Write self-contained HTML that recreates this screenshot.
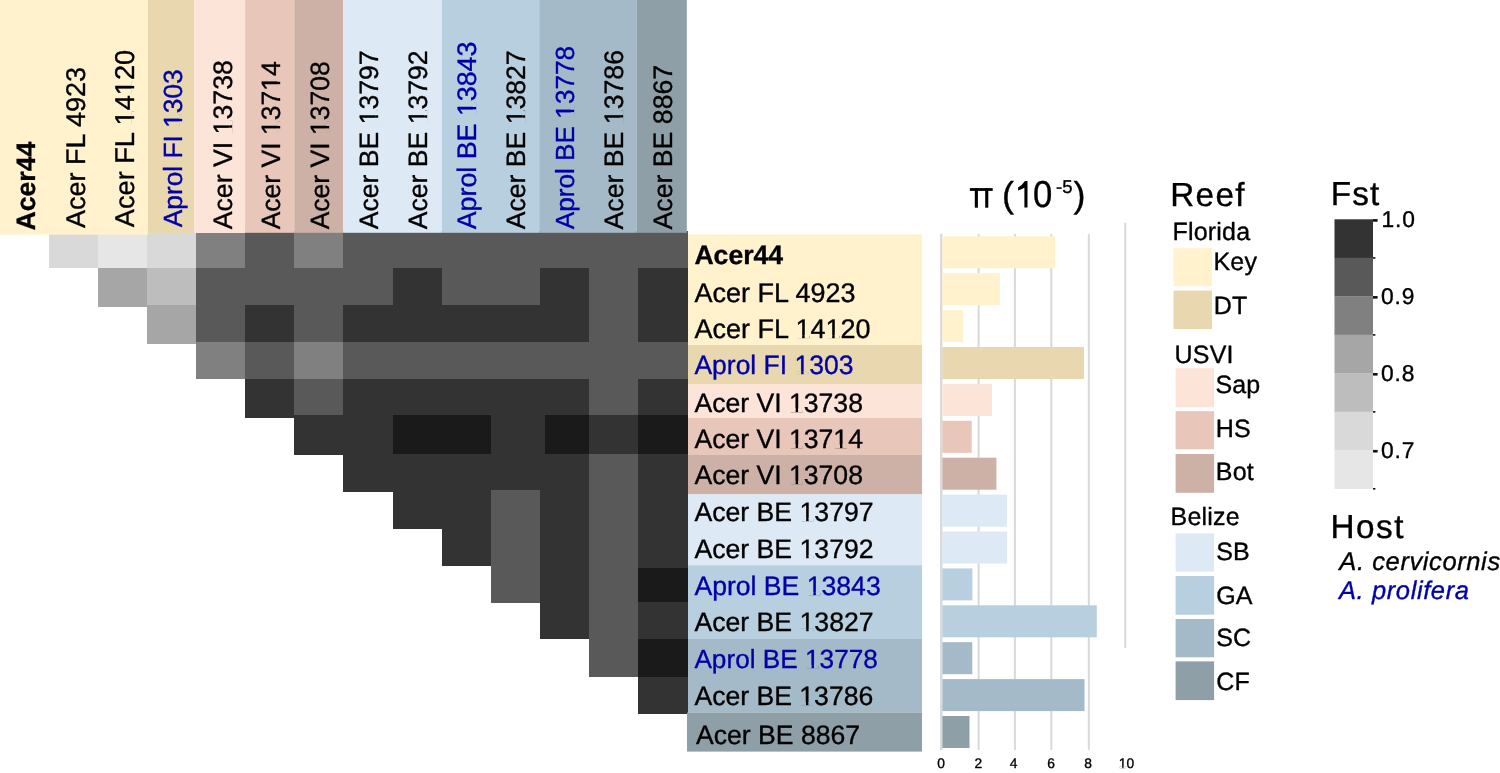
<!DOCTYPE html>
<html><head><meta charset="utf-8"><title>Fst heatmap</title>
<style>
html,body{margin:0;padding:0;background:#fff;}
body{width:1500px;height:773px;overflow:hidden;}
svg{display:block;will-change:transform;}
text{font-family:"Liberation Sans", sans-serif;text-rendering:geometricPrecision;stroke-width:0.35px;stroke-linejoin:round;}
text[fill="#000"]{stroke:#000;}
text[fill="#0000AA"]{stroke:#0000AA;}
</style></head><body>
<svg width="1500" height="773" viewBox="0 0 1500 773">
<rect x="0" y="0" width="1500" height="773" fill="#fff"/>
<g shape-rendering="crispEdges">
<rect x="49.07" y="230.60" width="49.47" height="37.40" fill="#D9D9D9"/>
<rect x="98.14" y="230.60" width="49.47" height="37.60" fill="#E6E6E6"/>
<rect x="147.21" y="230.60" width="49.47" height="37.60" fill="#D9D9D9"/>
<rect x="196.28" y="230.60" width="49.47" height="37.60" fill="#808080"/>
<rect x="245.35" y="230.60" width="49.47" height="37.60" fill="#595959"/>
<rect x="294.42" y="230.60" width="49.47" height="37.60" fill="#808080"/>
<rect x="343.49" y="230.60" width="49.47" height="37.60" fill="#595959"/>
<rect x="392.56" y="230.60" width="49.47" height="37.60" fill="#595959"/>
<rect x="441.63" y="230.60" width="49.47" height="37.60" fill="#595959"/>
<rect x="490.70" y="230.60" width="49.47" height="37.60" fill="#595959"/>
<rect x="539.77" y="230.60" width="49.47" height="37.60" fill="#595959"/>
<rect x="588.84" y="230.60" width="49.47" height="37.60" fill="#595959"/>
<rect x="637.91" y="230.60" width="49.79" height="37.60" fill="#595959"/>
<rect x="98.14" y="267.80" width="49.47" height="39.40" fill="#A6A6A6"/>
<rect x="147.21" y="267.80" width="49.47" height="37.20" fill="#BDBDBD"/>
<rect x="196.28" y="267.80" width="49.47" height="37.20" fill="#595959"/>
<rect x="245.35" y="267.80" width="49.47" height="37.20" fill="#595959"/>
<rect x="294.42" y="267.80" width="49.47" height="37.20" fill="#595959"/>
<rect x="343.49" y="267.80" width="49.47" height="37.20" fill="#595959"/>
<rect x="392.56" y="267.80" width="49.47" height="37.20" fill="#333333"/>
<rect x="441.63" y="267.80" width="49.47" height="37.20" fill="#595959"/>
<rect x="490.70" y="267.80" width="49.47" height="37.20" fill="#595959"/>
<rect x="539.77" y="267.80" width="49.47" height="37.20" fill="#333333"/>
<rect x="588.84" y="267.80" width="49.47" height="37.20" fill="#595959"/>
<rect x="637.91" y="267.80" width="49.79" height="37.20" fill="#333333"/>
<rect x="147.21" y="304.60" width="49.47" height="39.50" fill="#A6A6A6"/>
<rect x="196.28" y="304.60" width="49.47" height="37.30" fill="#595959"/>
<rect x="245.35" y="304.60" width="49.47" height="37.30" fill="#333333"/>
<rect x="294.42" y="304.60" width="49.47" height="37.30" fill="#595959"/>
<rect x="343.49" y="304.60" width="49.47" height="37.30" fill="#333333"/>
<rect x="392.56" y="304.60" width="49.47" height="37.30" fill="#333333"/>
<rect x="441.63" y="304.60" width="49.47" height="37.30" fill="#333333"/>
<rect x="490.70" y="304.60" width="49.47" height="37.30" fill="#333333"/>
<rect x="539.77" y="304.60" width="49.47" height="37.30" fill="#333333"/>
<rect x="588.84" y="304.60" width="49.47" height="37.30" fill="#595959"/>
<rect x="637.91" y="304.60" width="49.79" height="37.30" fill="#333333"/>
<rect x="196.28" y="341.50" width="49.47" height="37.00" fill="#808080"/>
<rect x="245.35" y="341.50" width="49.47" height="37.70" fill="#595959"/>
<rect x="294.42" y="341.50" width="49.47" height="37.70" fill="#808080"/>
<rect x="343.49" y="341.50" width="49.47" height="37.70" fill="#595959"/>
<rect x="392.56" y="341.50" width="49.47" height="37.70" fill="#595959"/>
<rect x="441.63" y="341.50" width="49.47" height="37.70" fill="#595959"/>
<rect x="490.70" y="341.50" width="49.47" height="37.70" fill="#595959"/>
<rect x="539.77" y="341.50" width="49.47" height="37.70" fill="#595959"/>
<rect x="588.84" y="341.50" width="49.47" height="37.70" fill="#595959"/>
<rect x="637.91" y="341.50" width="49.79" height="37.70" fill="#595959"/>
<rect x="245.35" y="378.80" width="49.47" height="39.00" fill="#333333"/>
<rect x="294.42" y="378.80" width="49.47" height="36.50" fill="#595959"/>
<rect x="343.49" y="378.80" width="49.47" height="36.50" fill="#333333"/>
<rect x="392.56" y="378.80" width="49.47" height="36.50" fill="#333333"/>
<rect x="441.63" y="378.80" width="49.47" height="36.50" fill="#333333"/>
<rect x="490.70" y="378.80" width="49.47" height="36.50" fill="#333333"/>
<rect x="539.77" y="378.80" width="49.47" height="36.50" fill="#333333"/>
<rect x="588.84" y="378.80" width="49.47" height="36.50" fill="#595959"/>
<rect x="637.91" y="378.80" width="49.79" height="36.50" fill="#333333"/>
<rect x="294.42" y="414.90" width="49.47" height="40.10" fill="#333333"/>
<rect x="343.49" y="414.90" width="49.47" height="39.80" fill="#333333"/>
<rect x="392.56" y="414.90" width="49.47" height="39.80" fill="#1A1A1A"/>
<rect x="441.63" y="414.90" width="49.47" height="39.80" fill="#1A1A1A"/>
<rect x="490.70" y="414.90" width="49.47" height="39.80" fill="#333333"/>
<rect x="544.80" y="414.90" width="49.47" height="39.80" fill="#1A1A1A"/>
<rect x="588.84" y="414.90" width="49.47" height="39.80" fill="#333333"/>
<rect x="637.91" y="414.90" width="49.79" height="39.80" fill="#1A1A1A"/>
<rect x="343.49" y="454.30" width="49.47" height="38.10" fill="#333333"/>
<rect x="392.56" y="454.30" width="49.47" height="35.70" fill="#333333"/>
<rect x="441.63" y="454.30" width="49.47" height="35.70" fill="#333333"/>
<rect x="490.70" y="454.30" width="49.47" height="35.70" fill="#333333"/>
<rect x="539.77" y="454.30" width="49.47" height="35.70" fill="#333333"/>
<rect x="588.84" y="454.30" width="49.47" height="35.70" fill="#595959"/>
<rect x="637.91" y="454.30" width="49.79" height="35.70" fill="#333333"/>
<rect x="392.56" y="489.60" width="49.47" height="39.40" fill="#333333"/>
<rect x="441.63" y="489.60" width="49.47" height="37.80" fill="#333333"/>
<rect x="490.70" y="489.60" width="49.47" height="37.80" fill="#595959"/>
<rect x="539.77" y="489.60" width="49.47" height="37.80" fill="#333333"/>
<rect x="588.84" y="489.60" width="49.47" height="37.80" fill="#595959"/>
<rect x="637.91" y="489.60" width="49.79" height="37.80" fill="#333333"/>
<rect x="441.63" y="527.00" width="49.47" height="39.20" fill="#333333"/>
<rect x="490.70" y="527.00" width="49.47" height="41.40" fill="#595959"/>
<rect x="539.77" y="527.00" width="49.47" height="41.40" fill="#333333"/>
<rect x="588.84" y="527.00" width="49.47" height="41.40" fill="#595959"/>
<rect x="637.91" y="527.00" width="49.79" height="41.40" fill="#333333"/>
<rect x="490.70" y="568.00" width="49.47" height="35.00" fill="#595959"/>
<rect x="539.77" y="568.00" width="49.47" height="34.00" fill="#333333"/>
<rect x="588.84" y="568.00" width="49.47" height="34.00" fill="#595959"/>
<rect x="637.91" y="568.00" width="49.79" height="34.00" fill="#1A1A1A"/>
<rect x="539.77" y="601.60" width="49.47" height="37.40" fill="#333333"/>
<rect x="588.84" y="601.60" width="49.47" height="37.80" fill="#595959"/>
<rect x="637.91" y="601.60" width="49.79" height="37.80" fill="#333333"/>
<rect x="588.84" y="639.00" width="49.47" height="38.00" fill="#595959"/>
<rect x="637.91" y="639.00" width="49.79" height="38.70" fill="#1A1A1A"/>
<rect x="637.91" y="677.30" width="49.79" height="36.40" fill="#333333"/>
<rect x="540.0" y="414.90" width="5.0" height="39.40" fill="#333333"/>
</g>
<g>
<rect x="0" y="0" width="147.90" height="234.7" fill="#FFF2CC"/>
<rect x="147.9" y="0" width="46.20" height="233.0" fill="#E8D7AF"/>
<rect x="194.1" y="0" width="51.00" height="233.0" fill="#FCE4D8"/>
<rect x="245.1" y="0" width="49.20" height="232.8" fill="#E9C6BA"/>
<rect x="294.3" y="0" width="48.80" height="232.8" fill="#CDB1A6"/>
<rect x="343.1" y="0" width="98.70" height="232.8" fill="#DDEAF6"/>
<rect x="441.8" y="0" width="97.40" height="232.8" fill="#B8CFE0"/>
<rect x="539.2" y="0" width="97.60" height="232.8" fill="#A5BAC8"/>
<rect x="636.8" y="0" width="50.00" height="232.8" fill="#8E9FA8"/>
</g>
<text id="h0" x="35.4" y="230.5" transform="rotate(-90 35.4 230.5)" font-size="26.6" fill="#000" font-weight="bold">Acer44</text>
<text id="h1" x="85.3" y="228.0" transform="rotate(-90 85.3 228.0)" font-size="27.0" fill="#000">Acer FL 4923</text>
<text id="h2" x="134.5" y="227.2" transform="rotate(-90 134.5 227.2)" font-size="27.2" fill="#000">Acer FL 14120</text>
<text id="h3" x="182.4" y="227.2" transform="rotate(-90 182.4 227.2)" font-size="26.3" fill="#0000AA">Aprol FI 1303</text>
<text id="h4" x="231.8" y="229.3" transform="rotate(-90 231.8 229.3)" font-size="26.7" fill="#000">Acer VI 13738</text>
<text id="h5" x="280.3" y="229.3" transform="rotate(-90 280.3 229.3)" font-size="26.5" fill="#000">Acer VI 13714</text>
<text id="h6" x="329.2" y="229.3" transform="rotate(-90 329.2 229.3)" font-size="26.5" fill="#000">Acer VI 13708</text>
<text id="h7" x="378.2" y="229.3" transform="rotate(-90 378.2 229.3)" font-size="26.6" fill="#000">Acer BE 13797</text>
<text id="h8" x="427.0" y="229.3" transform="rotate(-90 427.0 229.3)" font-size="26.6" fill="#000">Acer BE 13792</text>
<text id="h9" x="476.0" y="229.3" transform="rotate(-90 476.0 229.3)" font-size="26.8" fill="#0000AA">Aprol BE 13843</text>
<text id="h10" x="525.0" y="229.3" transform="rotate(-90 525.0 229.3)" font-size="26.6" fill="#000">Acer BE 13827</text>
<text id="h11" x="574.0" y="229.3" transform="rotate(-90 574.0 229.3)" font-size="26.2" fill="#0000AA">Aprol BE 13778</text>
<text id="h12" x="623.0" y="229.5" transform="rotate(-90 623.0 229.5)" font-size="26.7" fill="#000">Acer BE 13786</text>
<text id="h13" x="672.0" y="229.5" transform="rotate(-90 672.0 229.5)" font-size="26.7" fill="#000">Acer BE 8867</text>
<rect x="688" y="234.3" width="234" height="110.70" fill="#FFF2CC"/>
<rect x="688" y="345.0" width="234" height="39.00" fill="#E8D7AF"/>
<rect x="688" y="384.0" width="234" height="34.00" fill="#FCE4D8"/>
<rect x="688" y="418.0" width="234" height="37.00" fill="#E9C6BA"/>
<rect x="688" y="455.0" width="234" height="39.40" fill="#CDB1A6"/>
<rect x="688" y="494.4" width="234" height="70.80" fill="#DDEAF6"/>
<rect x="688" y="565.2" width="234" height="73.80" fill="#B8CFE0"/>
<rect x="688" y="639.0" width="234" height="73.50" fill="#A5BAC8"/>
<rect x="687" y="712.5" width="235" height="39.10" fill="#8E9FA8"/>
<text id="r0" x="694.4" y="263.8" font-size="26.6" fill="#000" font-weight="bold">Acer44</text>
<text id="r1" x="694.4" y="301.8" font-size="27.0" fill="#000">Acer FL 4923</text>
<text id="r2" x="694.4" y="338.0" font-size="27.0" fill="#000">Acer FL 14120</text>
<text id="r3" x="694.4" y="374.2" font-size="26.5" fill="#0000AA">Aprol FI 1303</text>
<text id="r4" x="694.4" y="411.5" font-size="26.6" fill="#000">Acer VI 13738</text>
<text id="r5" x="694.4" y="447.6" font-size="26.6" fill="#000">Acer VI 13714</text>
<text id="r6" x="694.4" y="483.9" font-size="26.6" fill="#000">Acer VI 13708</text>
<text id="r7" x="694.4" y="520.8" font-size="26.65" fill="#000">Acer BE 13797</text>
<text id="r8" x="694.4" y="558.2" font-size="26.65" fill="#000">Acer BE 13792</text>
<text id="r9" x="694.4" y="594.8" font-size="26.6" fill="#0000AA">Aprol BE 13843</text>
<text id="r10" x="694.4" y="631.4" font-size="26.65" fill="#000">Acer BE 13827</text>
<text id="r11" x="694.4" y="667.9" font-size="26.2" fill="#0000AA">Aprol BE 13778</text>
<text id="r12" x="694.4" y="705.0" font-size="26.6" fill="#000">Acer BE 13786</text>
<text id="r13" x="696.0" y="743.7" font-size="26.6" fill="#000">Acer BE 8867</text>
<rect x="977.60" y="234" width="2" height="516" fill="#D9D9D9"/>
<rect x="1013.90" y="234" width="2" height="516" fill="#D9D9D9"/>
<rect x="1050.30" y="234" width="2" height="516" fill="#D9D9D9"/>
<rect x="1087.80" y="234" width="2" height="516" fill="#D9D9D9"/>
<rect x="1124.30" y="222.8" width="2" height="425.2" fill="#D9D9D9"/>
<rect x="940.1" y="233.9" width="2.4" height="516.1" fill="#D9D9D9"/>
<rect x="942.4" y="236.30" width="112.60" height="32" fill="#FFF2CC"/>
<rect x="942.4" y="273.20" width="57.60" height="32" fill="#FFF2CC"/>
<rect x="942.4" y="310.10" width="20.60" height="32" fill="#FFF2CC"/>
<rect x="942.4" y="347.00" width="141.60" height="32" fill="#E8D7AF"/>
<rect x="942.4" y="383.90" width="49.60" height="32" fill="#FCE4D8"/>
<rect x="942.4" y="420.80" width="29.30" height="32" fill="#E9C6BA"/>
<rect x="942.4" y="457.70" width="54.00" height="32" fill="#CDB1A6"/>
<rect x="942.4" y="494.60" width="64.60" height="32" fill="#DDEAF6"/>
<rect x="942.4" y="531.50" width="64.60" height="32" fill="#DDEAF6"/>
<rect x="942.4" y="568.40" width="30.00" height="32" fill="#B8CFE0"/>
<rect x="942.4" y="605.30" width="154.40" height="32" fill="#B8CFE0"/>
<rect x="942.4" y="642.20" width="29.90" height="32" fill="#A5BAC8"/>
<rect x="942.4" y="679.10" width="142.10" height="32" fill="#A5BAC8"/>
<rect x="942.4" y="716.00" width="27.10" height="32" fill="#8E9FA8"/>
<text id="k0" x="941.2" y="768.2" font-size="13.8" text-anchor="middle" fill="#000">0</text>
<text id="k2" x="978.3" y="768.2" font-size="13.8" text-anchor="middle" fill="#000">2</text>
<text id="k4" x="1013.7" y="768.2" font-size="13.8" text-anchor="middle" fill="#000">4</text>
<text id="k6" x="1051" y="768.2" font-size="13.8" text-anchor="middle" fill="#000">6</text>
<text id="k8" x="1088.2" y="768.2" font-size="13.8" text-anchor="middle" fill="#000">8</text>
<text id="k10" x="1126.5" y="768.2" font-size="13.8" text-anchor="middle" fill="#000">10</text>
<rect x="969.9" y="188.1" width="22.8" height="2.8" fill="#000"/>
<rect x="974.8" y="188.1" width="3.1" height="19.6" fill="#000"/>
<rect x="985.2" y="188.1" width="3.1" height="19.6" fill="#000"/>
<text x="1002" y="207.0" font-size="36" fill="#000">(</text>
<path d="M1027.5 181.1 L1027.5 207.4 L1024.4 207.4 L1024.4 187.8 Q1021.5 189.6 1018.1 190.5 L1018.1 187.4 Q1022.5 185.0 1025.0 181.1 Z" fill="#000"/>
<text x="0" y="0" transform="translate(1033 207.2) scale(0.925 1)" font-size="37.5" fill="#000">0</text>
<text x="1056" y="193.3" font-size="18.5" fill="#000">-5</text>
<text x="1073.5" y="207.0" font-size="36" fill="#000">)</text>
<text x="1170.2" y="205.6" font-size="33.3" letter-spacing="1.35" fill="#000">Reef</text>
<text x="1172.5" y="239.7" font-size="25.0" letter-spacing="0.2" fill="#000">Florida</text>
<text x="1174.6" y="363.0" font-size="25.0" letter-spacing="0.2" fill="#000">USVI</text>
<text x="1170.6" y="525.0" font-size="25.0" letter-spacing="0.2" fill="#000">Belize</text>
<rect x="1173.5" y="248.2" width="38.5" height="38.0" fill="#FFF2CC"/>
<text x="1213.5" y="270.3" font-size="25.0" letter-spacing="0.2" fill="#000">Key</text>
<rect x="1173.5" y="290.6" width="38.5" height="38.4" fill="#E8D7AF"/>
<text x="1213.7" y="313.9" font-size="25.0" letter-spacing="0.2" fill="#000">DT</text>
<rect x="1175.6" y="368.2" width="38.5" height="39.1" fill="#FCE4D8"/>
<text x="1215.4" y="392.9" font-size="25.0" letter-spacing="0.2" fill="#000">Sap</text>
<rect x="1175.6" y="411.2" width="38.5" height="38.1" fill="#E9C6BA"/>
<text x="1215.8" y="436.7" font-size="25.0" letter-spacing="0.2" fill="#000">HS</text>
<rect x="1175.6" y="454.0" width="38.5" height="38.8" fill="#CDB1A6"/>
<text x="1215.8" y="479.6" font-size="25.0" letter-spacing="0.2" fill="#000">Bot</text>
<rect x="1175.6" y="533.4" width="38.5" height="38.2" fill="#DDEAF6"/>
<text x="1216.2" y="560.4" font-size="25.0" letter-spacing="0.2" fill="#000">SB</text>
<rect x="1175.6" y="576.0" width="38.5" height="38.7" fill="#B8CFE0"/>
<text x="1216.2" y="603.5" font-size="25.0" letter-spacing="0.2" fill="#000">GA</text>
<rect x="1175.6" y="619.0" width="38.5" height="38.3" fill="#A5BAC8"/>
<text x="1216.2" y="645.8" font-size="25.0" letter-spacing="0.2" fill="#000">SC</text>
<rect x="1175.6" y="661.4" width="38.5" height="38.7" fill="#8E9FA8"/>
<text x="1216.2" y="690.0" font-size="25.0" letter-spacing="0.2" fill="#000">CF</text>
<text x="1330.7" y="205.4" font-size="33.3" letter-spacing="1.2" fill="#000">Fst</text>
<rect x="1334.5" y="219.30" width="38.5" height="38.77" fill="#333333"/>
<rect x="1334.5" y="257.77" width="38.5" height="38.77" fill="#595959"/>
<rect x="1334.5" y="296.24" width="38.5" height="38.77" fill="#808080"/>
<rect x="1334.5" y="334.71" width="38.5" height="38.77" fill="#A6A6A6"/>
<rect x="1334.5" y="373.19" width="38.5" height="38.77" fill="#BDBDBD"/>
<rect x="1334.5" y="411.66" width="38.5" height="38.77" fill="#D9D9D9"/>
<rect x="1334.5" y="450.13" width="38.5" height="38.77" fill="#E6E6E6"/>
<rect x="1373" y="219.10" width="4.6" height="2.6" fill="#111"/>
<rect x="1373" y="257.17" width="2.4" height="1.6" fill="#111"/>
<rect x="1373" y="296.04" width="4.6" height="2.6" fill="#111"/>
<rect x="1373" y="334.11" width="2.4" height="1.6" fill="#111"/>
<rect x="1373" y="372.99" width="4.6" height="2.6" fill="#111"/>
<rect x="1373" y="411.06" width="2.4" height="1.6" fill="#111"/>
<rect x="1373" y="449.93" width="4.6" height="2.6" fill="#111"/>
<rect x="1373" y="488.00" width="2.4" height="1.6" fill="#111"/>
<text x="1381.4" y="227.30" font-size="22.8" letter-spacing="0.9" fill="#000">1.0</text>
<text x="1381.0" y="304.24" font-size="22.8" letter-spacing="0.9" fill="#000">0.9</text>
<text x="1381.0" y="381.19" font-size="22.8" letter-spacing="0.9" fill="#000">0.8</text>
<text x="1381.0" y="458.13" font-size="22.8" letter-spacing="0.9" fill="#000">0.7</text>
<text x="1330.5" y="537.5" font-size="33.3" letter-spacing="1.5" fill="#000">Host</text>
<text x="1339.3" y="570.0" font-size="25.5" letter-spacing="0.6" fill="#000" font-style="italic">A. cervicornis</text>
<text x="1339.0" y="598.9" font-size="25.5" letter-spacing="0.6" fill="#0000AA" font-style="italic">A. prolifera</text>
<g transform="rotate(-90 134.5 227.2)"><rect x="237.17" y="224.07" width="5.85" height="3.81" fill="#FFF2CC"/><rect x="245.52" y="224.07" width="4.90" height="3.81" fill="#FFF2CC"/><rect x="267.41" y="224.07" width="5.85" height="3.81" fill="#FFF2CC"/><rect x="275.76" y="224.07" width="4.90" height="3.81" fill="#FFF2CC"/></g>
<g><rect x="796.36" y="334.89" width="5.80" height="3.78" fill="#FFF2CC"/><rect x="804.65" y="334.89" width="4.86" height="3.78" fill="#FFF2CC"/><rect x="826.39" y="334.89" width="5.80" height="3.78" fill="#FFF2CC"/><rect x="834.68" y="334.89" width="4.86" height="3.78" fill="#FFF2CC"/></g>
<g transform="rotate(-90 182.4 227.2)"><rect x="282.68" y="224.18" width="5.65" height="3.68" fill="#E8D7AF"/><rect x="290.75" y="224.18" width="4.73" height="3.68" fill="#E8D7AF"/></g>
<g><rect x="795.45" y="371.15" width="5.70" height="3.71" fill="#E8D7AF"/><rect x="803.59" y="371.15" width="4.77" height="3.71" fill="#E8D7AF"/></g>
<g transform="rotate(-90 231.8 229.3)"><rect x="327.64" y="226.23" width="5.74" height="3.74" fill="#FCE4D8"/><rect x="335.84" y="226.23" width="4.81" height="3.74" fill="#FCE4D8"/></g>
<g><rect x="789.91" y="408.44" width="5.72" height="3.72" fill="#FCE4D8"/><rect x="798.08" y="408.44" width="4.79" height="3.72" fill="#FCE4D8"/></g>
<g transform="rotate(-90 280.3 229.3)"><rect x="375.48" y="226.25" width="5.70" height="3.71" fill="#E9C6BA"/><rect x="383.61" y="226.25" width="4.77" height="3.71" fill="#E9C6BA"/><rect x="419.68" y="226.25" width="5.70" height="3.71" fill="#E9C6BA"/><rect x="427.82" y="226.25" width="4.77" height="3.71" fill="#E9C6BA"/></g>
<g><rect x="789.91" y="444.54" width="5.72" height="3.72" fill="#E9C6BA"/><rect x="798.08" y="444.54" width="4.79" height="3.72" fill="#E9C6BA"/><rect x="834.28" y="444.54" width="5.72" height="3.72" fill="#E9C6BA"/><rect x="842.45" y="444.54" width="4.79" height="3.72" fill="#E9C6BA"/></g>
<g transform="rotate(-90 329.2 229.3)"><rect x="424.38" y="226.25" width="5.70" height="3.71" fill="#CDB1A6"/><rect x="432.51" y="226.25" width="4.77" height="3.71" fill="#CDB1A6"/></g>
<g><rect x="789.91" y="480.84" width="5.72" height="3.72" fill="#CDB1A6"/><rect x="798.08" y="480.84" width="4.79" height="3.72" fill="#CDB1A6"/></g>
<g transform="rotate(-90 378.2 229.3)"><rect x="484.05" y="226.24" width="5.72" height="3.72" fill="#DDEAF6"/><rect x="492.22" y="226.24" width="4.79" height="3.72" fill="#DDEAF6"/></g>
<g><rect x="800.44" y="517.74" width="5.73" height="3.73" fill="#DDEAF6"/><rect x="808.62" y="517.74" width="4.80" height="3.73" fill="#DDEAF6"/></g>
<g transform="rotate(-90 427.0 229.3)"><rect x="532.85" y="226.24" width="5.72" height="3.72" fill="#DDEAF6"/><rect x="541.02" y="226.24" width="4.79" height="3.72" fill="#DDEAF6"/></g>
<g><rect x="800.44" y="555.14" width="5.73" height="3.73" fill="#DDEAF6"/><rect x="808.62" y="555.14" width="4.80" height="3.73" fill="#DDEAF6"/></g>
<g transform="rotate(-90 476.0 229.3)"><rect x="590.13" y="226.22" width="5.76" height="3.75" fill="#B8CFE0"/><rect x="598.35" y="226.22" width="4.82" height="3.75" fill="#B8CFE0"/></g>
<g><rect x="807.66" y="591.74" width="5.72" height="3.72" fill="#B8CFE0"/><rect x="815.83" y="591.74" width="4.79" height="3.72" fill="#B8CFE0"/></g>
<g transform="rotate(-90 525.0 229.3)"><rect x="630.85" y="226.24" width="5.72" height="3.72" fill="#B8CFE0"/><rect x="639.02" y="226.24" width="4.79" height="3.72" fill="#B8CFE0"/></g>
<g><rect x="800.44" y="628.34" width="5.73" height="3.73" fill="#B8CFE0"/><rect x="808.62" y="628.34" width="4.80" height="3.73" fill="#B8CFE0"/></g>
<g transform="rotate(-90 574.0 229.3)"><rect x="685.53" y="226.29" width="5.63" height="3.67" fill="#A5BAC8"/><rect x="693.57" y="226.29" width="4.72" height="3.67" fill="#A5BAC8"/></g>
<g><rect x="805.93" y="664.89" width="5.63" height="3.67" fill="#A5BAC8"/><rect x="813.97" y="664.89" width="4.72" height="3.67" fill="#A5BAC8"/></g>
<g transform="rotate(-90 623.0 229.5)"><rect x="729.23" y="226.43" width="5.74" height="3.74" fill="#A5BAC8"/><rect x="737.43" y="226.43" width="4.81" height="3.74" fill="#A5BAC8"/></g>
<g><rect x="800.25" y="701.94" width="5.72" height="3.72" fill="#A5BAC8"/><rect x="808.42" y="701.94" width="4.79" height="3.72" fill="#A5BAC8"/></g>
<g><rect x="1119.30" y="766.61" width="2.97" height="1.93" fill="#fff"/><rect x="1123.54" y="766.61" width="2.48" height="1.93" fill="#fff"/></g>
</svg>
</body></html>
